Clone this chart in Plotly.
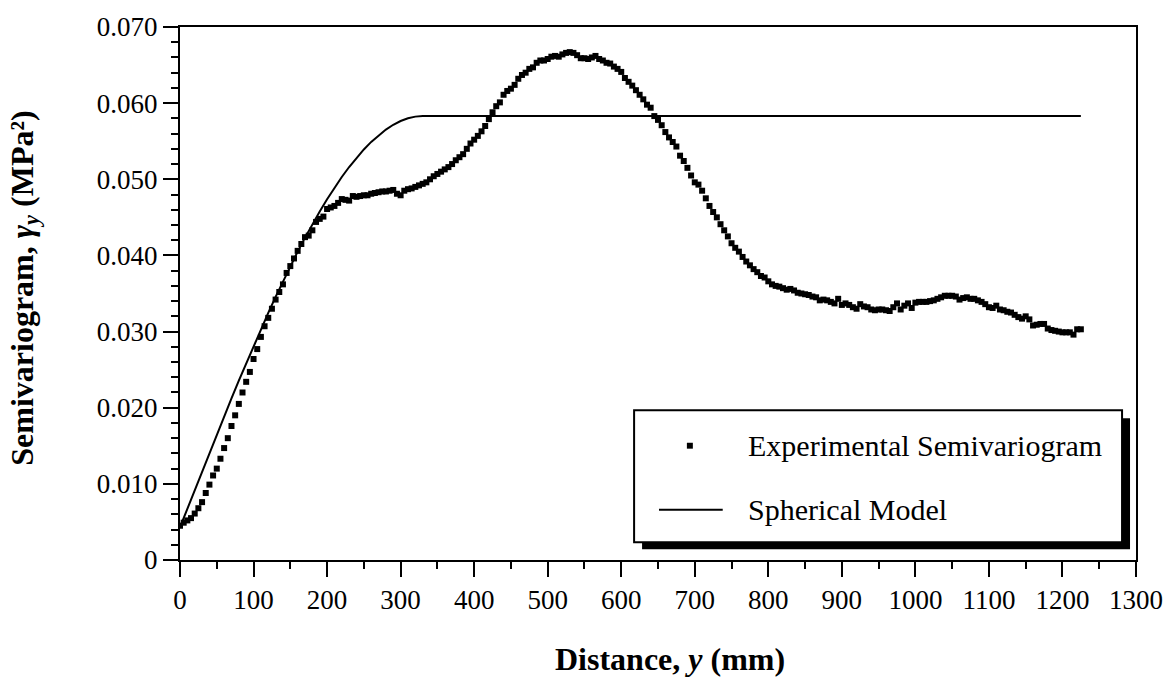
import plotly.graph_objects as go

# Experimental semivariogram: lag distance (mm) and gamma (MPa^2)
lag_mm = list(range(0, 1230, 5))
gamma_exp = [
    0.0045, 0.0049, 0.0052, 0.0055, 0.0061, 0.0068, 0.0076, 0.0088, 0.0099, 0.0111,
    0.0120, 0.0133, 0.0147, 0.0160, 0.0176, 0.0190, 0.0205, 0.0220, 0.0234, 0.0247,
    0.0264, 0.0277, 0.0293, 0.0307, 0.0318, 0.0330, 0.0342, 0.0352, 0.0362, 0.0377,
    0.0386, 0.0396, 0.0406, 0.0415, 0.0424, 0.0426, 0.0433, 0.0444, 0.0448, 0.0451,
    0.0461, 0.0463, 0.0465, 0.0469, 0.0474, 0.0473, 0.0472, 0.0478, 0.0477, 0.0478,
    0.0479, 0.0479, 0.0481, 0.0482, 0.0483, 0.0484, 0.0484, 0.0485, 0.0486, 0.0481,
    0.0479, 0.0485, 0.0487, 0.0488, 0.0490, 0.0492, 0.0494, 0.0496, 0.0500, 0.0504,
    0.0507, 0.0510, 0.0513, 0.0516, 0.0520, 0.0525, 0.0529, 0.0533, 0.0540, 0.0547,
    0.0552, 0.0557, 0.0563, 0.0570, 0.0579, 0.0588, 0.0596, 0.0601, 0.0611, 0.0616,
    0.0619, 0.0624, 0.0632, 0.0637, 0.0640, 0.0645, 0.0647, 0.0653, 0.0656, 0.0656,
    0.0658, 0.0661, 0.0662, 0.0661, 0.0664, 0.0666, 0.0667, 0.0666, 0.0663, 0.0659,
    0.0659, 0.0658, 0.0660, 0.0662, 0.0658, 0.0656, 0.0653, 0.0652, 0.0648, 0.0645,
    0.0641, 0.0633, 0.0628, 0.0623, 0.0617, 0.0611, 0.0605, 0.0598, 0.0594, 0.0583,
    0.0578, 0.0571, 0.0562, 0.0555, 0.0549, 0.0543, 0.0531, 0.0524, 0.0515, 0.0505,
    0.0496, 0.0493, 0.0485, 0.0475, 0.0465, 0.0457, 0.0450, 0.0441, 0.0433, 0.0425,
    0.0416, 0.0410, 0.0405, 0.0398, 0.0392, 0.0387, 0.0382, 0.0378, 0.0373, 0.0371,
    0.0366, 0.0362, 0.0360, 0.0359, 0.0357, 0.0355, 0.0356, 0.0354, 0.0351, 0.0350,
    0.0349, 0.0348, 0.0346, 0.0345, 0.0341, 0.0342, 0.0341, 0.0339, 0.0337, 0.0343,
    0.0335, 0.0337, 0.0335, 0.0332, 0.0330, 0.0336, 0.0333, 0.0332, 0.0329, 0.0328,
    0.0329, 0.0329, 0.0328, 0.0327, 0.0332, 0.0337, 0.0329, 0.0334, 0.0337, 0.0331,
    0.0338, 0.0339, 0.0339, 0.0339, 0.0340, 0.0341, 0.0343, 0.0345, 0.0347, 0.0347,
    0.0347, 0.0346, 0.0342, 0.0344, 0.0345, 0.0343, 0.0343, 0.0341, 0.0339, 0.0336,
    0.0332, 0.0331, 0.0334, 0.0329, 0.0328, 0.0326, 0.0325, 0.0322, 0.0319, 0.0317,
    0.0320, 0.0316, 0.0308, 0.0309, 0.0310, 0.0310, 0.0304, 0.0302, 0.0301, 0.0300,
    0.0299, 0.0299, 0.0299, 0.0296, 0.0303, 0.0303,
]

# Spherical model curve
model_mm = [0, 10, 20, 30, 40, 50, 60, 70, 80, 90, 100, 110, 120, 130, 140, 150, 160,
            170, 180, 190, 200, 210, 220, 230, 240, 250, 260, 270, 280, 290, 300, 310,
            320, 330, 1225]
gamma_model = [0.00430, 0.00675, 0.00920, 0.01164, 0.01407, 0.01648, 0.01887, 0.02122,
               0.02355, 0.02584, 0.02809, 0.03030, 0.03246, 0.03456, 0.03660, 0.03858,
               0.04050, 0.04234, 0.04410, 0.04578, 0.04738, 0.04889, 0.05030, 0.05161,
               0.05282, 0.05392, 0.05491, 0.05578, 0.05653, 0.05716, 0.05765, 0.05801,
               0.05823, 0.05830, 0.05830]

x_ticks = list(range(0, 1400, 100))
y_ticks = [0, 0.01, 0.02, 0.03, 0.04, 0.05, 0.06, 0.07]
y_tick_text = ["0", "0.010", "0.020", "0.030", "0.040", "0.050", "0.060", "0.070"]

legend_labels = ["Experimental Semivariogram", "Spherical Model"]

FONT = "Liberation Serif, Times New Roman, serif"
W, H = 1175, 682
L, R, T, B = 180, 35, 19, 122
PW, PH = W - L - R, H - T - B


def px(xp):
    return (xp - L) / PW


def py(yp):
    return (H - B - yp) / PH


fig = go.Figure()
fig.add_trace(go.Scatter(
    x=lag_mm, y=gamma_exp, mode="markers",
    marker=dict(symbol="square", size=6, color="black", line=dict(width=0)),
    name=legend_labels[0], showlegend=False,
))
fig.add_trace(go.Scatter(
    x=model_mm, y=gamma_model, mode="lines",
    line=dict(color="black", width=2),
    name=legend_labels[1], showlegend=False,
))

shapes = [
    # legend shadow
    dict(type="rect", xref="paper", yref="paper", x0=px(644), x1=px(1134),
         y0=py(549), y1=py(416), fillcolor="black", line=dict(width=0)),
    # legend box
    dict(type="rect", xref="paper", yref="paper", x0=px(636), x1=px(1126),
         y0=py(542), y1=py(408), fillcolor="white", line=dict(color="black", width=2)),
    # legend marker sample
    dict(type="rect", xref="paper", yref="paper", x0=px(689), x1=px(695),
         y0=py(447), y1=py(441), fillcolor="black", line=dict(width=0)),
    # legend line sample
    dict(type="line", xref="paper", yref="paper", x0=px(661), x1=px(725),
         y0=py(509), y1=py(509), line=dict(color="black", width=2)),
]

annotations = [
    dict(text=legend_labels[0], xref="paper", yref="paper", x=px(748), y=py(444),
         xanchor="left", yanchor="middle", showarrow=False,
         font=dict(family=FONT, size=30, color="black")),
    dict(text=legend_labels[1], xref="paper", yref="paper", x=px(748), y=py(509),
         xanchor="left", yanchor="middle", showarrow=False,
         font=dict(family=FONT, size=30, color="black")),
    dict(text="<b>Distance, <i>y</i> (mm)</b>", xref="paper", yref="paper",
         x=px(672), y=py(660), xanchor="center", yanchor="middle", showarrow=False,
         font=dict(family=FONT, size=32, color="black")),
    dict(text="<b>Semivariogram, <i>γ<sub>y</sub></i> (MPa²)</b>", xref="paper",
         yref="paper", x=px(23), y=py(284), xanchor="center", yanchor="middle",
         textangle=-90, showarrow=False,
         font=dict(family=FONT, size=32, color="black")),
]

fig.update_layout(
    width=W, height=H,
    margin=dict(l=L, r=R, t=T, b=B),
    paper_bgcolor="white", plot_bgcolor="white",
    font=dict(family=FONT, size=26, color="black"),
    shapes=shapes, annotations=annotations,
    showlegend=False,
)
fig.update_xaxes(
    range=[0, 1300], tickvals=x_ticks, ticktext=[str(v) for v in x_ticks],
    showgrid=False, zeroline=False,
    showline=True, linecolor="black", linewidth=2, mirror=True,
    ticks="outside", ticklen=15, tickwidth=1.5, tickcolor="black",
    minor=dict(tickvals=list(range(50, 1300, 100)), ticklen=7, tickwidth=1.5,
               tickcolor="black", ticks="outside", showgrid=False),
    tickfont=dict(family=FONT, size=27, color="black"),
)
fig.update_yaxes(
    range=[0, 0.07], tickvals=y_ticks, ticktext=y_tick_text,
    showgrid=False, zeroline=False,
    showline=True, linecolor="black", linewidth=2, mirror=True,
    ticks="outside", ticklen=15, tickwidth=1.5, tickcolor="black",
    minor=dict(dtick=0.002, tick0=0, ticklen=7, tickwidth=1.5,
               tickcolor="black", ticks="outside", showgrid=False),
    tickfont=dict(family=FONT, size=27, color="black"),
)

fig.write_html("out.html")
